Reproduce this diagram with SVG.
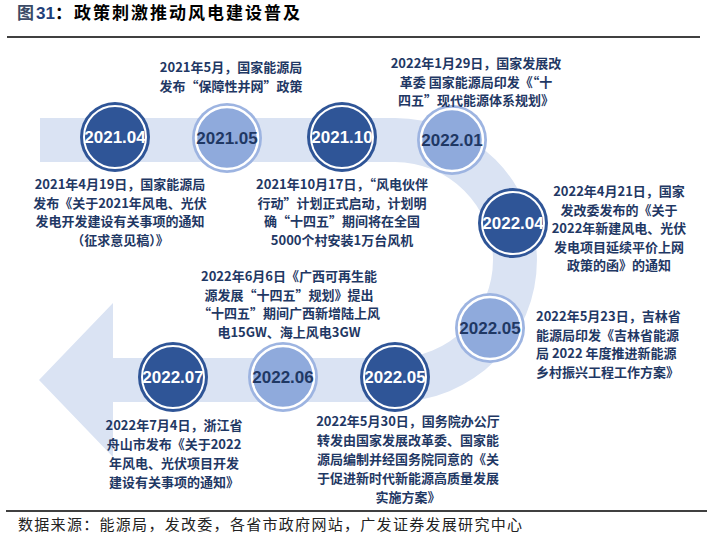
<svg xmlns="http://www.w3.org/2000/svg" width="715" height="539" viewBox="0 0 715 539">
<style>
.t{font-family:"Noto Sans CJK SC","Liberation Sans",sans-serif;font-weight:bold;font-size:13px;fill:#1f3864;text-anchor:middle}
.l{text-anchor:start}
.dk .o{fill:#2f5597}
.dk .i{fill:#2f5597;stroke:#fff;stroke-width:2}
.lt .o{fill:#9db4e1}
.lt .i{fill:#8faadc;stroke:#fff;stroke-width:2.5}
.lab{font-family:"Liberation Sans",Arial,sans-serif;font-weight:bold;font-size:17px;text-anchor:middle}
.dk .lab{fill:#fff}
.lt .lab{fill:#1f3864}
</style>
<rect width="715" height="539" fill="#fff"/>
<g id="title">
<text x="17" y="19" font-family="Noto Sans CJK SC,sans-serif" font-weight="bold" font-size="17" letter-spacing="2" fill="#000"><tspan fill="#3b4a66">图</tspan><tspan fill="#1f3f7a" font-family="Liberation Sans,Arial,sans-serif" letter-spacing="0">31</tspan>：政策刺激推动风电建设普及</text>
<line x1="7" y1="37" x2="700" y2="37" stroke="#000" stroke-width="1.5"/>
</g>
<g id="connectors">
<path d="M40,118 H395 A142,142 0 0 1 395,402 H113 V457 L39,380 L113,303 V358 H395 A98,98 0 0 0 395,162 H40 Z" fill="#dae3f3"/>
</g>
<g id="n2021-04" class="dk"><circle class="o" cx="115" cy="137" r="35"/><circle class="i" cx="115" cy="137" r="31"/><text class="lab" x="115" y="143">2021.04</text></g>
<g id="n2021-05" class="lt"><circle class="o" cx="227" cy="138" r="35"/><circle class="i" cx="227" cy="138" r="31"/><text class="lab" x="227" y="144">2021.05</text></g>
<g id="n2021-10" class="dk"><circle class="o" cx="342" cy="137" r="35"/><circle class="i" cx="342" cy="137" r="31"/><text class="lab" x="342" y="143">2021.10</text></g>
<g id="n2022-01" class="lt"><circle class="o" cx="452" cy="140" r="35"/><circle class="i" cx="452" cy="140" r="31"/><text class="lab" x="452" y="146">2022.01</text></g>
<g id="n2022-04" class="dk"><circle class="o" cx="513" cy="223" r="35"/><circle class="i" cx="513" cy="223" r="31"/><text class="lab" x="513" y="229">2022.04</text></g>
<g id="n2022-05a" class="lt"><circle class="o" cx="490" cy="328" r="35"/><circle class="i" cx="490" cy="328" r="31"/><text class="lab" x="490" y="334">2022.05</text></g>
<g id="n2022-05b" class="dk"><circle class="o" cx="395" cy="377" r="35"/><circle class="i" cx="395" cy="377" r="31"/><text class="lab" x="395" y="383">2022.05</text></g>
<g id="n2022-06" class="lt"><circle class="o" cx="283" cy="377" r="35"/><circle class="i" cx="283" cy="377" r="31"/><text class="lab" x="283" y="383">2022.06</text></g>
<g id="n2022-07" class="dk"><circle class="o" cx="173" cy="377" r="35"/><circle class="i" cx="173" cy="377" r="31"/><text class="lab" x="173" y="383">2022.07</text></g>
<g id="txt-2021-05">
<text class="t" x="231" y="72">2021年5月，国家能源局</text>
<text class="t" x="231" y="91">发布“保障性并网”政策</text>
</g>
<g id="txt-2021-04">
<text class="t" x="120" y="189">2021年4月19日，国家能源局</text>
<text class="t" x="120" y="207.5">发布《关于2021年风电、光伏</text>
<text class="t" x="120" y="226">发电开发建设有关事项的通知</text>
<text class="t" x="120" y="244.5">（征求意见稿）》</text>
</g>
<g id="txt-2021-10">
<text class="t" x="342" y="189">2021年10月17日，“风电伙伴</text>
<text class="t" x="342" y="207.5">行动”计划正式启动，计划明</text>
<text class="t" x="342" y="226">确“十四五”期间将在全国</text>
<text class="t" x="342" y="244.5">5000个村安装1万台风机</text>
</g>
<g id="txt-2022-01">
<text class="t" x="476" y="68">2022年1月29日，国家发展改</text>
<text class="t" x="476" y="86.5">革委 国家能源局印发《“十</text>
<text class="t" x="476" y="105">四五”现代能源体系规划》</text>
</g>
<g id="txt-2022-04">
<text class="t" x="619" y="196">2022年4月21日，国家</text>
<text class="t" x="619" y="214.5">发改委发布的《关于</text>
<text class="t" x="619" y="233">2022年新建风电、光伏</text>
<text class="t" x="619" y="251.5">发电项目延续平价上网</text>
<text class="t" x="619" y="270">政策的函》的通知</text>
</g>
<g id="txt-2022-05a">
<text class="t l" x="536" y="321">2022年5月23日，吉林省</text>
<text class="t l" x="536" y="339.5">能源局印发《吉林省能源</text>
<text class="t l" x="536" y="358">局 2022 年度推进新能源</text>
<text class="t l" x="536" y="376.5">乡村振兴工程工作方案》</text>
</g>
<g id="txt-2022-06">
<text class="t" x="289" y="281">2022年6月6日《广西可再生能</text>
<text class="t" x="289" y="299.5">源发展“十四五”规划》提出</text>
<text class="t" x="289" y="318">“十四五”期间广西新增陆上风</text>
<text class="t" x="289" y="336.5">电15GW、海上风电3GW</text>
</g>
<g id="txt-2022-07">
<text class="t" x="174" y="430">2022年7月4日，浙江省</text>
<text class="t" x="174" y="449">舟山市发布《关于2022</text>
<text class="t" x="174" y="468">年风电、光伏项目开发</text>
<text class="t" x="174" y="487">建设有关事项的通知》</text>
</g>
<g id="txt-2022-05b">
<text class="t" x="408" y="426">2022年5月30日，国务院办公厅</text>
<text class="t" x="408" y="445">转发由国家发展改革委、国家能</text>
<text class="t" x="408" y="464">源局编制并经国务院同意的《关</text>
<text class="t" x="408" y="483">于促进新时代新能源高质量发展</text>
<text class="t" x="408" y="502">实施方案》</text>
</g>
<g id="footer">
<line x1="6" y1="511" x2="707" y2="511" stroke="#000" stroke-width="1.5"/>
<text x="18" y="530" font-family="Noto Sans CJK SC,sans-serif" font-size="15" letter-spacing="1.3" fill="#222">数据来源：能源局，发改委，各省市政府网站，广发证券发展研究中心</text>
</g>
</svg>
